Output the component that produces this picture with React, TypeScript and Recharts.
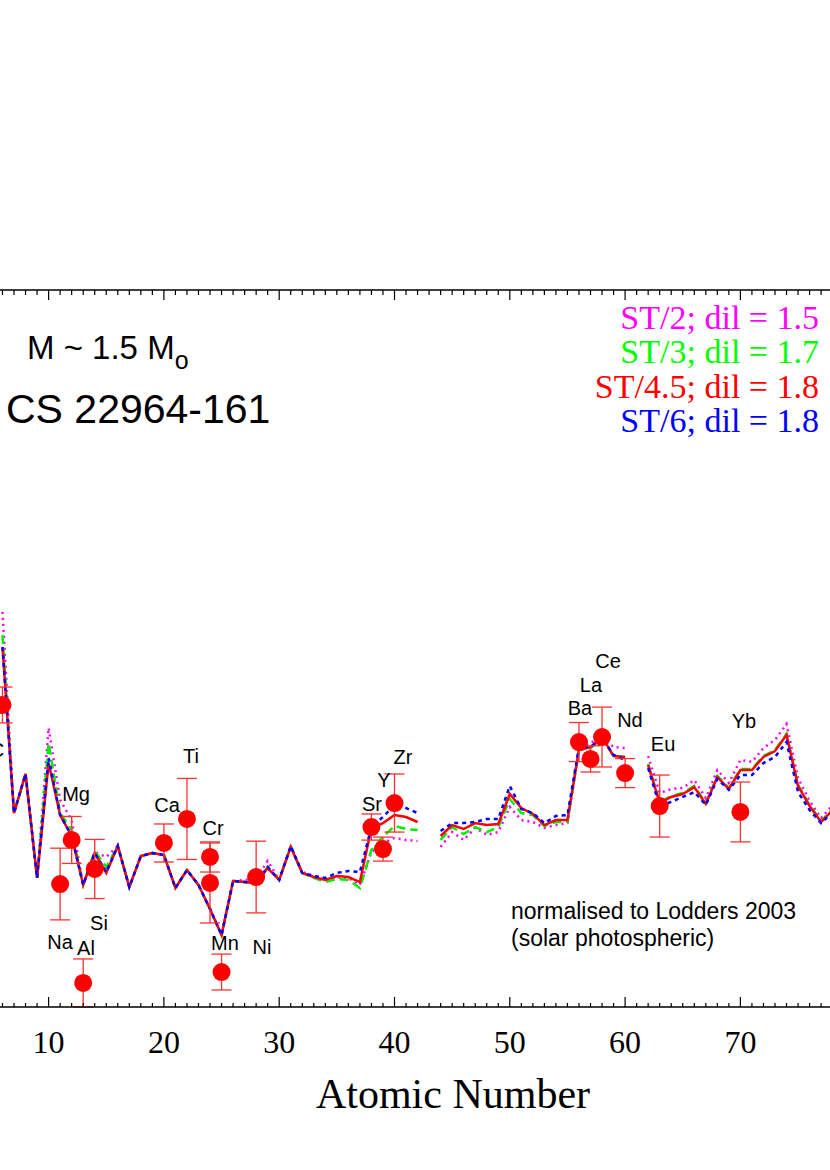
import { ComposedChart, ErrorBar, Line, Scatter, XAxis, YAxis } from "recharts";

// atomic numbers of the model curves (43 Tc and 61 Pm left as gaps)
const atomicNumber = [
  6, 7, 8, 9, 10, 11, 12, 13, 14, 15, 16, 17, 18, 19, 20, 21, 22, 23, 24, 25,
  26, 27, 28, 29, 30, 31, 32, 33, 34, 35, 36, 37, 38, 39, 40, 41, 42, 43, 44, 45,
  46, 47, 48, 49, 50, 51, 52, 53, 54, 55, 56, 57, 58, 59, 60, 61, 62, 63, 64, 65,
  66, 67, 68, 69, 70, 71, 72, 73, 74, 75, 76, 77, 78,
];

// ST/2; dil = 1.5
const st2 = [
  1.504, 0.382, 0.6, 0.02, 0.857, 0.455, 0.343, -0.019, 0.165, 0.137,
  0.198, -0.031, 0.142, 0.159, 0.148, -0.036, 0.064, -0.019, -0.153, -0.298,
  0.003, 0.009, 0.014, 0.115, 0.009, 0.198, 0.053, 0.031, 0.009, 0.025,
  0.02, -0.019, 0.165, 0.215, 0.243, 0.232, 0.226, null, 0.193, 0.276,
  0.232, 0.299, 0.26, 0.276, 0.416, 0.343, 0.332, 0.299, 0.315, 0.326,
  0.745, 0.773, 0.806, 0.75, 0.745, null, 0.7, 0.494, 0.516, 0.522,
  0.566, 0.466, 0.622, 0.55, 0.678, 0.667, 0.745, 0.79, 0.879, 0.578,
  0.449, 0.354, 0.427,
];

// ST/3; dil = 1.7
const st3 = [
  1.375, 0.382, 0.6, 0.02, 0.773, 0.382, 0.287, -0.019, 0.17, 0.081,
  0.198, -0.031, 0.142, 0.159, 0.148, -0.036, 0.064, -0.019, -0.153, -0.298,
  0.003, -0.003, -0.008, 0.081, 0.009, 0.193, 0.048, 0.02, -0.003, 0.014,
  0.009, -0.036, 0.176, 0.248, 0.31, 0.293, 0.287, null, 0.232, 0.304,
  0.265, 0.304, 0.276, 0.304, 0.46, 0.382, 0.371, 0.31, 0.332, 0.332,
  0.734, 0.745, 0.801, 0.7, 0.695, null, 0.656, 0.444, 0.477, 0.494,
  0.533, 0.438, 0.589, 0.522, 0.628, 0.628, 0.7, 0.734, 0.823, 0.539,
  0.427, 0.338, 0.405,
];

// ST/4.5; dil = 1.8
const st45 = [
  1.308, 0.382, 0.6, 0.02, 0.661, 0.371, 0.254, -0.019, 0.159, 0.048,
  0.198, -0.031, 0.142, 0.159, 0.148, -0.036, 0.064, -0.019, -0.153, -0.298,
  0.003, -0.003, -0.008, 0.075, 0.009, 0.193, 0.048, 0.025, 0.009, 0.031,
  0.025, -0.003, 0.299, 0.326, 0.371, 0.36, 0.332, null, 0.254, 0.315,
  0.293, 0.326, 0.315, 0.321, 0.488, 0.41, 0.377, 0.315, 0.343, 0.343,
  0.734, 0.75, 0.806, 0.7, 0.695, null, 0.65, 0.438, 0.472, 0.488,
  0.527, 0.433, 0.583, 0.516, 0.622, 0.622, 0.695, 0.728, 0.817, 0.533,
  0.421, 0.332, 0.399,
];

// ST/6; dil = 1.8
const st6 = [
  1.308, 0.382, 0.6, 0.02, 0.689, 0.371, 0.254, -0.019, 0.159, 0.053,
  0.198, -0.031, 0.142, 0.159, 0.148, -0.036, 0.064, -0.019, -0.153, -0.298,
  0.003, -0.003, -0.008, 0.081, 0.009, 0.198, 0.048, 0.031, 0.02, 0.048,
  0.059, 0.053, 0.304, 0.36, 0.427, 0.41, 0.382, null, 0.282, 0.326,
  0.326, 0.332, 0.349, 0.349, 0.533, 0.405, 0.382, 0.326, 0.366, 0.371,
  0.75, 0.75, 0.801, 0.706, 0.678, null, 0.633, 0.421, 0.444, 0.472,
  0.499, 0.427, 0.572, 0.511, 0.594, 0.594, 0.661, 0.695, 0.778, 0.499,
  0.399, 0.326, 0.388,
];

// observed abundances of CS 22964-161
const obsZ = [6, 11, 12, 13, 14, 20, 22, 24, 24, 25, 28, 38, 39, 40, 56, 57, 58, 60, 63, 70];
const obsVal = [
  0.985, -0.014, 0.232, -0.566, 0.07, 0.215, 0.349, 0.137, -0.008, -0.505,
  0.025, 0.304, 0.181, 0.438, 0.778, 0.684, 0.806, 0.605, 0.421, 0.388,
];
const obsErr = [
  0.1, 0.2, 0.131, 0.134, 0.165, 0.106, 0.226, 0.084, 0.223, 0.1,
  0.2, 0.073, 0.067, 0.162, 0.109, 0.073, 0.167, 0.081, 0.173, 0.167,
];

// element name labels
const labelText = ["C", "Na", "Al", "Mg", "Si", "Ca", "Ti", "Cr", "Mn", "Ni", "Sr", "Y", "Zr", "Ba", "La", "Ce", "Nd", "Eu", "Yb"];
const labelZ = [5.52, 10.99, 13.24, 12.38, 14.37, 20.27, 22.35, 24.26, 25.3, 28.51, 38.05, 39.09, 40.74, 56.09, 57.04, 58.52, 60.42, 63.29, 70.31];
const labelVal = [0.734, -0.337, -0.371, 0.488, -0.231, 0.427, 0.7, 0.299, -0.343, -0.365, 0.433, 0.566, 0.695, 0.968, 1.096, 1.23, 0.901, 0.767, 0.896];

const legendText = ["ST/2; dil = 1.5", "ST/3; dil = 1.7", "ST/4.5; dil = 1.8", "ST/6; dil = 1.8"];
const legendColor = ["#ff00ff", "#00ff00", "#ff0000", "#0000ff"];

const xTicks = Array.from({ length: 86 }, (_, i) => i);
const xTickLabels = [10, 20, 30, 40, 50, 60, 70];

const modelData = atomicNumber.map((z, i) => ({
  z,
  st2: st2[i],
  st3: st3[i],
  st45: st45[i],
  st6: st6[i],
}));
const obsData = obsZ.map((z, i) => ({ z, v: obsVal[i], err: obsErr[i] }));
const labelData = labelZ.map((z, i) => ({ z, v: labelVal[i], name: labelText[i] }));

const SANS = "'Liberation Sans', Arial, sans-serif";
const SERIF = "'Liberation Serif', 'Times New Roman', serif";

// chart is wider than the page so the frame runs off both sides
const W = 1150;
const H = 1170;
const SHIFT = 150;
const PX_PER_Z = 11.53;
const Z10_PX = 48.6;
const plotLeft = SHIFT + Z10_PX - 10 * PX_PER_Z;
const plotRight = SHIFT + Z10_PX + 75 * PX_PER_Z;
const TOP_AXIS_H = 20;
const BOTTOM_AXIS_H = 60;

const BottomTick = (props: any) => {
  const { x, y, payload } = props;
  const major = payload.value % 10 === 0;
  return (
    <g>
      <line x1={x} x2={x} y1={y} y2={y - (major ? 10 : 4)} stroke="#000" strokeWidth={1.2} />
      {xTickLabels.includes(payload.value) && (
        <text x={x} y={y + 46} textAnchor="middle" fontFamily={SERIF} fontSize={32} fill="#000">
          {payload.value}
        </text>
      )}
    </g>
  );
};

const TopTick = (props: any) => {
  const { x, y, payload } = props;
  const major = payload.value % 10 === 0;
  return <line x1={x} x2={x} y1={y} y2={y + (major ? 10 : 5)} stroke="#000" strokeWidth={1.2} />;
};

const ObsDot = (props: any) => <circle cx={props.cx} cy={props.cy} r={9} fill="#ff0000" />;

const ElementLabel = (props: any) => (
  <text
    x={props.cx}
    y={props.cy}
    textAnchor="middle"
    dominantBaseline="central"
    fontFamily={SANS}
    fontSize={20}
    fill="#000"
  >
    {props.payload.name}
  </text>
);

export default function App() {
  return (
    <div
      style={{
        position: "absolute",
        left: 0,
        top: 0,
        width: 830,
        height: 1170,
        overflow: "hidden",
        background: "#fff",
      }}
    >
      <div style={{ position: "absolute", left: -SHIFT, top: 0 }}>
        <ComposedChart
          width={W}
          height={H}
          data={modelData}
          margin={{
            top: 290 - TOP_AXIS_H,
            bottom: H - 1007 - BOTTOM_AXIS_H,
            left: plotLeft,
            right: W - plotRight,
          }}
        >
          <XAxis
            xAxisId="bottom"
            dataKey="z"
            type="number"
            domain={[0, 85]}
            ticks={xTicks}
            interval={0}
            height={BOTTOM_AXIS_H}
            tickSize={0}
            tickMargin={0}
            tickLine={false}
            tick={<BottomTick />}
            axisLine={{ stroke: "#000", strokeWidth: 1.5 }}
            allowDataOverflow
          />
          <XAxis
            xAxisId="top"
            orientation="top"
            dataKey="z"
            type="number"
            domain={[0, 85]}
            ticks={xTicks}
            interval={0}
            height={TOP_AXIS_H}
            tickSize={0}
            tickMargin={0}
            tickLine={false}
            tick={<TopTick />}
            axisLine={{ stroke: "#000", strokeWidth: 1.5 }}
            allowDataOverflow
          />
          <YAxis yAxisId="y" type="number" domain={[-0.7, 3.3]} hide allowDataOverflow />
          <Line xAxisId="bottom" yAxisId="y" dataKey="st2" stroke="#ff00ff" strokeWidth={2.5} strokeDasharray="2 4" dot={false} activeDot={false} isAnimationActive={false} />
          <Line xAxisId="bottom" yAxisId="y" dataKey="st3" stroke="#00ee00" strokeWidth={2.5} strokeDasharray="9 5" dot={false} activeDot={false} isAnimationActive={false} />
          <Line xAxisId="bottom" yAxisId="y" dataKey="st45" stroke="#ff0000" strokeWidth={2.5} dot={false} activeDot={false} isAnimationActive={false} />
          <Line xAxisId="bottom" yAxisId="y" dataKey="st6" stroke="#0000ff" strokeWidth={2.5} strokeDasharray="4 4" dot={false} activeDot={false} isAnimationActive={false} />
          <Scatter xAxisId="bottom" yAxisId="y" data={obsData} dataKey="v" shape={<ObsDot />} isAnimationActive={false}>
            <ErrorBar dataKey="err" direction="y" width={10} stroke="#ff3030" strokeWidth={1.3} />
          </Scatter>
          <Scatter xAxisId="bottom" yAxisId="y" data={labelData} dataKey="v" shape={<ElementLabel />} isAnimationActive={false} />
        </ComposedChart>
      </div>
      <svg
        width={830}
        height={1170}
        style={{ position: "absolute", left: 0, top: 0, pointerEvents: "none" }}
      >
        <text x={27} y={359} fontFamily={SANS} fontSize={33} fill="#000">
          M ~ 1.5 M
          <tspan fontSize={25} dy={10}>o</tspan>
        </text>
        <text x={6} y={423} fontFamily={SANS} fontSize={41} fill="#000">
          CS 22964-161
        </text>
        {legendText.map((t, i) => (
          <text key={t} x={819} y={329 + i * 34.3} textAnchor="end" fontFamily={SERIF} fontSize={34} fill={legendColor[i]}>
            {t}
          </text>
        ))}
        <text x={511} y={919} fontFamily={SANS} fontSize={23} fill="#000">
          normalised to Lodders 2003
        </text>
        <text x={511} y={946} fontFamily={SANS} fontSize={23} fill="#000">
          (solar photospheric)
        </text>
        <text x={453} y={1108} textAnchor="middle" fontFamily={SERIF} fontSize={42} fill="#000">
          Atomic Number
        </text>
      </svg>
    </div>
  );
}
